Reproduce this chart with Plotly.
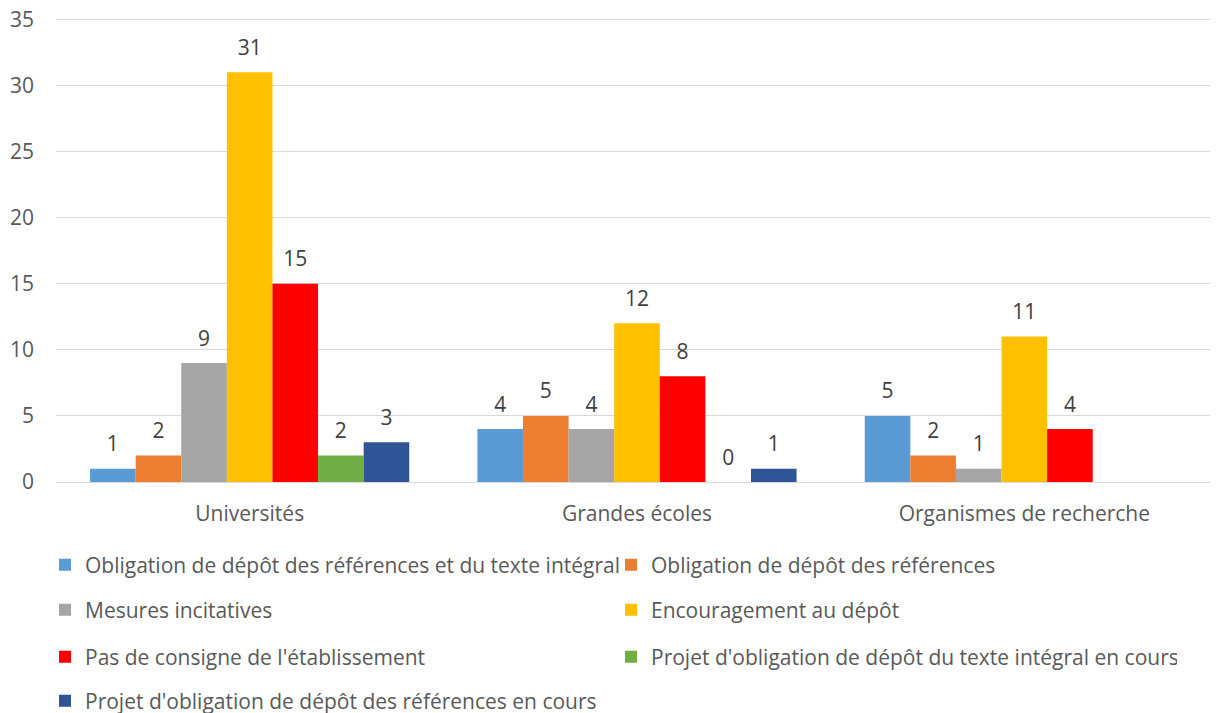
import plotly.graph_objects as go

categories = ["Universités", "Grandes écoles", "Organismes de recherche"]

series_names = [
    "Obligation de dépôt des références et du texte intégral",
    "Obligation de dépôt des références",
    "Mesures incitatives",
    "Encouragement au dépôt",
    "Pas de consigne de l'établissement",
    "Projet d'obligation de dépôt du texte intégral en cours",
    "Projet d'obligation de dépôt des références en cours",
]

oblig_ref_texte = [1, 4, 5]
oblig_ref = [2, 5, 2]
mesures = [9, 4, 1]
encouragement = [31, 12, 11]
pas_consigne = [15, 8, 4]
projet_texte = [2, 0, None]
projet_ref = [3, 1, None]

series_values = [oblig_ref_texte, oblig_ref, mesures, encouragement,
                 pas_consigne, projet_texte, projet_ref]

y_ticks = [0, 5, 10, 15, 20, 25, 30, 35]

colors = ["#5B9BD5", "#ED7D31", "#A5A5A5", "#FFC000",
          "#FF0000", "#70AD47", "#2F5597"]

# two legend entries per row, each row is its own legend
legend_ids = ["legend", "legend", "legend2", "legend2",
              "legend3", "legend3", "legend4"]

font_family = "Open Sans, Noto Sans, sans-serif"
fsize = 21
W, H = 1210, 705  # page body adds an 8px margin

fig = go.Figure()
for i, (name, vals, col, lg) in enumerate(zip(series_names, series_values, colors, legend_ids)):
    fig.add_trace(go.Bar(
        x=categories,
        y=vals,
        name=name,
        marker=dict(color=col, line=dict(width=0)),
        offsetgroup=str(i),
        legend=lg,
    ))

# data labels, aligned with the bars through offsetgroup
for i, vals in enumerate(series_values):
    fig.add_trace(go.Scatter(
        x=categories,
        y=vals,
        mode="markers+text",
        marker=dict(size=18, opacity=0),
        text=[("" if v is None else str(v)) for v in vals],
        textposition="top center",
        textfont=dict(color="#404040", size=fsize, family=font_family),
        offsetgroup=str(i),
        cliponaxis=False,
        showlegend=False,
        hoverinfo="skip",
    ))

legend_style = dict(
    orientation="h",
    xref="container",
    yref="container",
    x=37 / W,
    xanchor="left",
    yanchor="middle",
    entrywidth=521,
    font=dict(size=fsize, color="#595959", family=font_family),
    bgcolor="rgba(0,0,0,0)",
    itemclick=False,
)
row_y = [557, 602, 649, 693]

fig.update_layout(
    width=W,
    height=H,
    margin=dict(l=48, r=0, t=10, b=231, autoexpand=False),
    plot_bgcolor="white",
    paper_bgcolor="white",
    barmode="group",
    bargap=0.176,
    bargroupgap=0,
    scattermode="group",
    scattergap=0.176,
    font=dict(family=font_family, color="#595959", size=fsize),
    showlegend=True,
    legend=dict(legend_style, y=1 - row_y[0] / H),
    legend2=dict(legend_style, y=1 - row_y[1] / H),
    legend3=dict(legend_style, y=1 - row_y[2] / H),
    legend4=dict(legend_style, y=1 - row_y[3] / H),
)

fig.update_yaxes(
    range=[0, 35.1],
    tickmode="array",
    tickvals=y_ticks,
    showgrid=True,
    gridcolor="#D9D9D9",
    gridwidth=1,
    zeroline=True,
    zerolinecolor="#D9D9D9",
    zerolinewidth=1,
    showline=False,
    ticks="",
    ticklabelstandoff=21,
    ticklabeloverflow="allow",
    tickfont=dict(size=fsize, color="#595959"),
)
fig.update_xaxes(
    showline=False,
    ticks="",
    tickfont=dict(size=fsize, color="#595959"),
    ticklabelstandoff=17,
    ticklabeloverflow="allow",
)

fig.write_html("out.html")
